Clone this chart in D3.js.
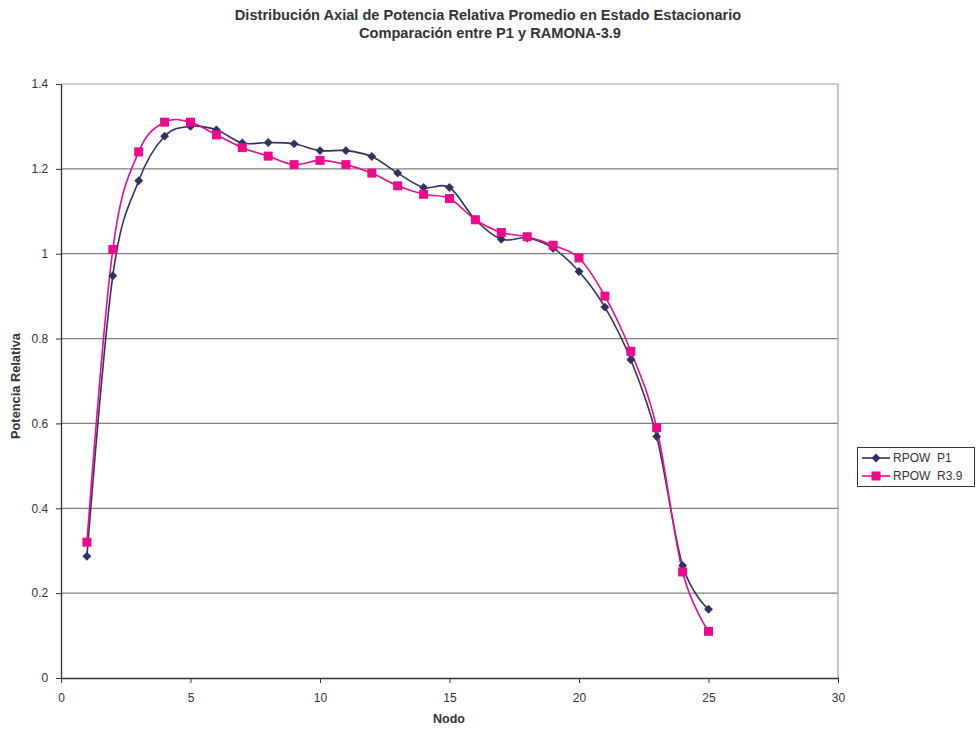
<!DOCTYPE html>
<html><head><meta charset="utf-8">
<script src="https://cdn.jsdelivr.net/npm/d3@7"></script>
<style>body{margin:0;background:#fff;}svg{display:block;font-family:"Liberation Sans",Arial,sans-serif;}</style>
</head><body><svg id="c" width="977" height="733"></svg>
<script>
const nodes = [1,2,3,4,5,6,7,8,9,10,11,12,13,14,15,16,17,18,19,20,21,22,23,24,25];
const p1 = [0.287,0.948,1.172,1.277,1.300,1.292,1.261,1.262,1.259,1.243,1.243,1.229,1.190,1.156,1.156,1.080,1.034,1.037,1.013,0.958,0.874,0.750,0.569,0.265,0.162];
const r39 = [0.32,1.01,1.24,1.31,1.31,1.28,1.25,1.23,1.21,1.22,1.21,1.19,1.16,1.14,1.13,1.08,1.05,1.04,1.02,0.99,0.90,0.77,0.59,0.25,0.11];
const xTicks = [0,5,10,15,20,25,30];
const yTicks = [0,0.2,0.4,0.6,0.8,1,1.2,1.4];
const seriesNames = ["RPOW  P1","RPOW  R3.9"];
const colors = ["#2f3263","#ee0a8c"];

const svg = d3.select("#c");
const L=61, R=838, T=84, B=678;
const x = d3.scaleLinear().domain([0,30]).range([L,R]);
const y = d3.scaleLinear().domain([0,1.4]).range([B,T]);

svg.append("g").selectAll("line").data(yTicks.filter(d=>d>0)).join("line")
  .attr("x1",L).attr("x2",R).attr("y1",d=>y(d)).attr("y2",d=>y(d))
  .attr("stroke",d=>d===1.4?"#a89c9c":"#808080").attr("stroke-width",1.2);
svg.append("line").attr("x1",R).attr("x2",R).attr("y1",T).attr("y2",B).attr("stroke","#a89c9c").attr("stroke-width",1.2);

const xa = svg.append("g").attr("transform",`translate(0,${B})`)
  .call(d3.axisBottom(x).tickValues(xTicks).tickSize(5).tickSizeOuter(0).tickFormat(d3.format("d")));
const ya = svg.append("g").attr("transform",`translate(${L},0)`)
  .call(d3.axisLeft(y).tickValues(yTicks).tickSize(5).tickSizeOuter(0).tickFormat(d=>String(d)));
[xa,ya].forEach(a=>{
  a.select(".domain").attr("stroke","#333").attr("stroke-width",1.3);
  a.selectAll(".tick line").attr("stroke","#333");
  a.selectAll("text").attr("font-size",12).attr("fill","#333").attr("font-family","Liberation Sans, Arial, sans-serif");
});
xa.selectAll("text").attr("dy","1.3em");
ya.selectAll("text").attr("dx","-0.4em");

const line = d3.line().x(d=>x(d[0])).y(d=>y(d[1])).curve(d3.curveCardinal.tension(0));
const data = [nodes.map((n,i)=>[n,p1[i]]), nodes.map((n,i)=>[n,r39[i]])];
data.forEach((d,i)=>{
  svg.append("path").attr("d",line(d)).attr("fill","none").attr("stroke",colors[i]).attr("stroke-width",1.6);
});
const diamond = d3.symbol().type(d3.symbolDiamond2).size(50);
svg.append("g").selectAll("path").data(data[0]).join("path")
  .attr("d",diamond).attr("transform",d=>`translate(${x(d[0])},${y(d[1])})`).attr("fill",colors[0]);
svg.append("g").selectAll("rect").data(data[1]).join("rect")
  .attr("x",d=>x(d[0])-4.5).attr("y",d=>y(d[1])-4.5).attr("width",9).attr("height",9).attr("fill",colors[1]);

svg.append("text").attr("x",488).attr("y",20).attr("text-anchor","middle").attr("font-size",14.6).attr("font-weight","bold").attr("fill","#333")
  .text("Distribución Axial de Potencia Relativa Promedio en Estado Estacionario");
svg.append("text").attr("x",490).attr("y",38).attr("text-anchor","middle").attr("font-size",14.6).attr("font-weight","bold").attr("fill","#333")
  .text("Comparación entre P1 y RAMONA-3.9");
svg.append("text").attr("x",449).attr("y",723).attr("text-anchor","middle").attr("font-size",12.5).attr("font-weight","bold").attr("fill","#333").text("Nodo");
svg.append("text").attr("transform","translate(20,386) rotate(-90)").attr("text-anchor","middle").attr("font-size",12.8).attr("font-weight","bold").attr("fill","#333").text("Potencia Relativa");

const lg = svg.append("g");
lg.append("rect").attr("x",857.5).attr("y",447.5).attr("width",117).attr("height",39).attr("fill","#fff").attr("stroke","#333").attr("stroke-width",1);
seriesNames.forEach((nm,i)=>{
  const yy = 458 + i*18;
  lg.append("line").attr("x1",862).attr("x2",890).attr("y1",yy).attr("y2",yy).attr("stroke",colors[i]).attr("stroke-width",1.6);
  if(i===0) lg.append("path").attr("d",diamond).attr("transform",`translate(876,${yy})`).attr("fill",colors[0]);
  else lg.append("rect").attr("x",871.5).attr("y",yy-4.5).attr("width",9).attr("height",9).attr("fill",colors[1]);
  lg.append("text").attr("x",893).attr("y",yy+4).attr("font-size",12).attr("fill","#333").attr("xml:space","preserve").style("white-space","pre").text(nm);
});
</script></body></html>
